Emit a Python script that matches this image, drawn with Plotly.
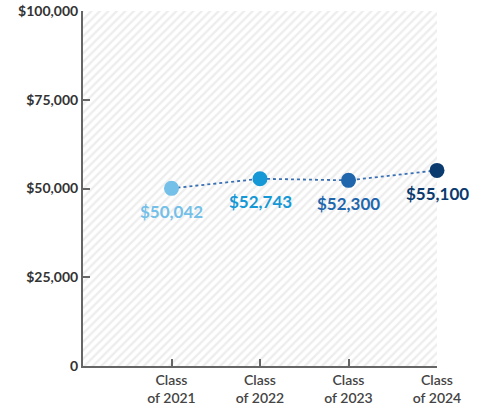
# Median starting salary by graduating class, with a hatched plot background
import plotly.graph_objects as go

# Data
classes = ["Class<br>of 2021", "Class<br>of 2022", "Class<br>of 2023", "Class<br>of 2024"]
salaries = [50042, 52743, 52300, 55100]
salary_labels = ["$50,042", "$52,743", "$52,300", "$55,100"]
point_colors = ["#74c0e8", "#1598d5", "#1f66ad", "#0b3a6e"]
y_ticks = [0, 25000, 50000, 75000, 100000]
y_tick_labels = ["0", "$25,000", "$50,000", "$75,000", "$100,000"]

x_pos = [i + 1 for i in range(len(classes))]
x_range = [0, len(classes)]
y_range = [0, 100000]

fig = go.Figure()

# Hatched background covering the plot area
fig.add_trace(go.Scatter(
    x=[x_range[0], x_range[1], x_range[1], x_range[0], x_range[0]],
    y=[y_range[0], y_range[0], y_range[1], y_range[1], y_range[0]],
    mode="lines",
    line={"width": 0},
    fill="toself",
    fillcolor="white",
    fillpattern={"shape": "/", "fgcolor": "#dcdcdc", "bgcolor": "white",
                 "size": 6, "solidity": 0.4},
    hoverinfo="skip",
    showlegend=False,
))

# Dotted connecting line
fig.add_trace(go.Scatter(
    x=x_pos,
    y=salaries,
    mode="lines",
    line={"color": "#3a70b3", "width": 1.8, "dash": "dot"},
    hoverinfo="skip",
    showlegend=False,
))

# Points
fig.add_trace(go.Scatter(
    x=x_pos,
    y=salaries,
    mode="markers",
    marker={"size": 15, "color": point_colors},
    cliponaxis=False,
    showlegend=False,
))

# Value labels under each point
for x, y, label, color in zip(x_pos, salaries, salary_labels, point_colors):
    fig.add_annotation(
        x=x, y=y, text=label, showarrow=False, yshift=-23,
        font={"size": 17, "family": "Lato", "color": color, "weight": "bold"},
    )

fig.update_layout(
    width=482,
    height=410,
    margin={"l": 83, "r": 45, "t": 11, "b": 44},
    plot_bgcolor="white",
    paper_bgcolor="white",
    font={"family": "Lato", "color": "#3a3a3a"},
)

fig.update_xaxes(
    range=x_range,
    tickvals=x_pos,
    ticktext=classes,
    ticks="inside",
    ticklen=7,
    tickcolor="#666",
    tickwidth=1.5,
    showgrid=False,
    zeroline=False,
    showline=True,
    linecolor="#666",
    linewidth=2,
    automargin=False,
    ticklabeloverflow="allow",
    tickfont={"size": 14, "color": "#444", "family": "Lato", "weight": 600},
)

fig.update_yaxes(
    range=y_range,
    tickvals=y_ticks,
    ticktext=y_tick_labels,
    ticks="inside",
    ticklen=7,
    tickcolor="#666",
    tickwidth=1.5,
    showgrid=False,
    zeroline=False,
    showline=True,
    linecolor="#666",
    linewidth=2,
    automargin=False,
    ticklabeloverflow="allow",
    tickfont={"size": 14, "color": "#333", "family": "Lato", "weight": "bold"},
)

# Drop the page's default body margin so the figure fills the window exactly
fig.write_html(
    "out.html",
    config={"displayModeBar": False},
    post_script="document.body.style.margin = '0px';",
)
